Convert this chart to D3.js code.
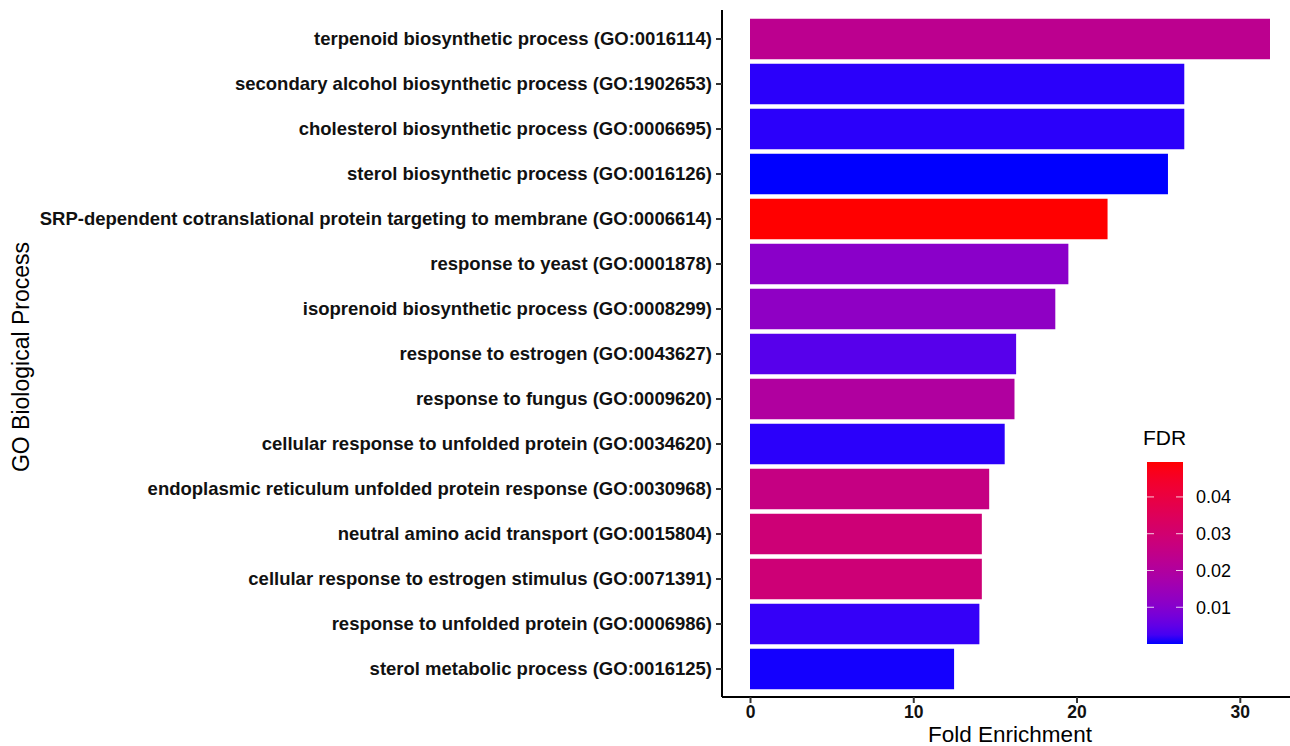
<!DOCTYPE html>
<html>
<head>
<meta charset="utf-8">
<script src="https://cdn.jsdelivr.net/npm/d3@7"></script>
<style>
  body { margin: 0; background: #fff; }
  svg { display: block; font-family: "Liberation Sans", Arial, sans-serif; }
</style>
</head>
<body>
<svg id="chart" width="1290" height="746"></svg>
<script>
// GO terms, top to bottom
var terms = [
  "terpenoid biosynthetic process (GO:0016114)",
  "secondary alcohol biosynthetic process (GO:1902653)",
  "cholesterol biosynthetic process (GO:0006695)",
  "sterol biosynthetic process (GO:0016126)",
  "SRP-dependent cotranslational protein targeting to membrane (GO:0006614)",
  "response to yeast (GO:0001878)",
  "isoprenoid biosynthetic process (GO:0008299)",
  "response to estrogen (GO:0043627)",
  "response to fungus (GO:0009620)",
  "cellular response to unfolded protein (GO:0034620)",
  "endoplasmic reticulum unfolded protein response (GO:0030968)",
  "neutral amino acid transport (GO:0015804)",
  "cellular response to estrogen stimulus (GO:0071391)",
  "response to unfolded protein (GO:0006986)",
  "sterol metabolic process (GO:0016125)"
];
var foldEnrichment = [31.85, 26.6, 26.6, 25.6, 21.9, 19.5, 18.7, 16.3, 16.2, 15.6, 14.65, 14.2, 14.2, 14.05, 12.5];
var fdr = [0.0233, 0.0010, 0.0010, 0.00001, 0.0495, 0.0110, 0.0120, 0.0040, 0.0198, 0.0010, 0.0262, 0.0287, 0.0287, 0.0015, 0.0003];
var xTicks = [0, 10, 20, 30];
var fdrTicks = [0.01, 0.02, 0.03, 0.04];

var svg = d3.select("#chart");

// x scale with ggplot-like 5% expansion
var xMax = d3.max(foldEnrichment);
var pad = xMax * 0.05;
var x = d3.scaleLinear().domain([-pad, xMax + pad]).range([724, 1296]);

var y = d3.scaleBand()
    .domain(terms)
    .range([12, 696])
    .paddingInner(0.1)
    .paddingOuter(0.15);

var fdrExtent = d3.extent(fdr);
var color = d3.scaleLinear()
    .domain(fdrExtent)
    .range(["blue", "red"])
    .interpolate(d3.interpolateLab);

// bars
svg.append("g").selectAll("rect")
  .data(terms)
  .enter().append("rect")
    .attr("x", x(0))
    .attr("y", function(d) { return y(d); })
    .attr("width", function(d, i) { return x(foldEnrichment[i]) - x(0); })
    .attr("height", y.bandwidth())
    .attr("fill", function(d, i) { return color(fdr[i]); });

// y axis
var yAxis = svg.append("g")
    .attr("transform", "translate(722,0)")
    .call(d3.axisLeft(y).tickSize(6).tickPadding(4).tickSizeOuter(0));
yAxis.select(".domain").attr("stroke", "#000").attr("stroke-width", 2).attr("d", "M0,10V697");
yAxis.selectAll(".tick line").attr("stroke", "#333").attr("stroke-width", 2);
yAxis.selectAll(".tick text")
    .attr("fill", "#111")
    .style("font-size", "18.5px")
    .style("font-weight", "bold");

// x axis
var xAxis = svg.append("g")
    .attr("transform", "translate(0,697)")
    .call(d3.axisBottom(x).tickValues(xTicks).tickSize(6).tickPadding(3).tickSizeOuter(0));
xAxis.select(".domain").attr("stroke", "#000").attr("stroke-width", 2).attr("d", "M722,0H1290");
xAxis.selectAll(".tick line").attr("stroke", "#333").attr("stroke-width", 2);
xAxis.selectAll(".tick text")
    .attr("fill", "#111")
    .style("font-size", "17.5px")
    .style("font-weight", "bold");

// axis titles
svg.append("text")
    .attr("x", 1010)
    .attr("y", 742)
    .attr("text-anchor", "middle")
    .style("font-size", "22.5px")
    .text("Fold Enrichment");

svg.append("text")
    .attr("transform", "translate(29,357) rotate(-90)")
    .attr("text-anchor", "middle")
    .style("font-size", "23px")
    .text("GO Biological Process");

// legend: FDR colour bar
var legX = 1147, legW = 36, legTop = 462, legBottom = 644;
var legScale = d3.scaleLinear().domain(fdrExtent).range([legBottom, legTop]);

var grad = svg.append("defs").append("linearGradient")
    .attr("id", "fdr-grad")
    .attr("x1", "0%").attr("y1", "100%")
    .attr("x2", "0%").attr("y2", "0%");
d3.range(0, 1.0001, 0.05).forEach(function(t) {
  grad.append("stop")
      .attr("offset", (t * 100) + "%")
      .attr("stop-color", d3.interpolateLab("blue", "red")(t));
});

svg.append("text")
    .attr("x", 1143)
    .attr("y", 445)
    .style("font-size", "21px")
    .text("FDR");

svg.append("rect")
    .attr("x", legX)
    .attr("y", legTop)
    .attr("width", legW)
    .attr("height", legBottom - legTop)
    .attr("fill", "url(#fdr-grad)");

var legTicks = svg.append("g").selectAll("g")
  .data(fdrTicks)
  .enter().append("g")
    .attr("transform", function(d) { return "translate(0," + legScale(d) + ")"; });
legTicks.append("line")
    .attr("x1", legX).attr("x2", legX + 7)
    .attr("stroke", "#fff").attr("stroke-opacity", 0.8);
legTicks.append("line")
    .attr("x1", legX + legW - 7).attr("x2", legX + legW)
    .attr("stroke", "#fff").attr("stroke-opacity", 0.8);
legTicks.append("text")
    .attr("x", 1196)
    .attr("dy", "0.35em")
    .style("font-size", "18px")
    .text(function(d) { return d3.format(".2f")(d); });
</script>
</body>
</html>
